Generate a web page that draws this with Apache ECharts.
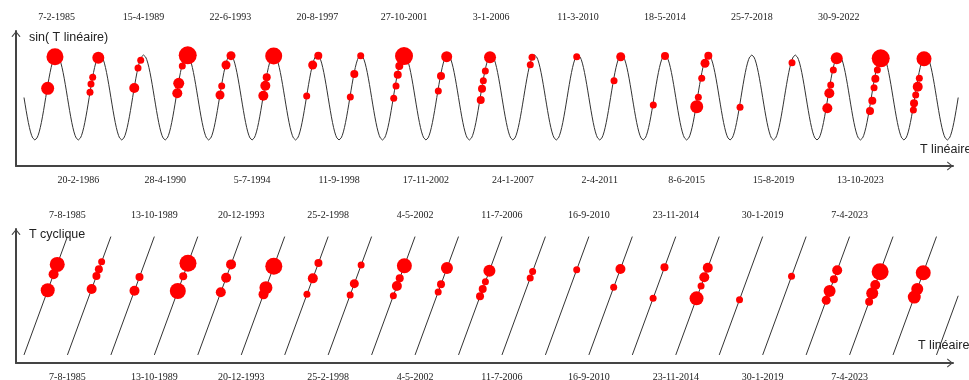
<!DOCTYPE html>
<html>
<head>
<meta charset="utf-8">
<script src="https://cdn.jsdelivr.net/npm/echarts@6/dist/echarts.min.js"></script>
<style>
  html, body { margin: 0; padding: 0; background: #fff; }
  #chart { width: 969px; height: 380px; }
</style>
</head>
<body>
<div id="chart"></div>
<script>
// T is counted in cycles (one cycle = one period of the sine)
var cycles = 21.5;

// dates written above / below each panel, and the T where they sit
var sineTopDates = ['7-2-1985', '15-4-1989', '22-6-1993', '20-8-1997', '27-10-2001', '3-1-2006', '11-3-2010', '18-5-2014', '25-7-2018', '30-9-2022'];
var sineTopAt = [0.75, 2.75, 4.75, 6.75, 8.75, 10.75, 12.75, 14.75, 16.75, 18.75];
var sineBottomDates = ['20-2-1986', '28-4-1990', '5-7-1994', '11-9-1998', '17-11-2002', '24-1-2007', '2-4-2011', '8-6-2015', '15-8-2019', '13-10-2023'];
var sineBottomAt = [1.25, 3.25, 5.25, 7.25, 9.25, 11.25, 13.25, 15.25, 17.25, 19.25];
var cyclicDates = ['7-8-1985', '13-10-1989', '20-12-1993', '25-2-1998', '4-5-2002', '11-7-2006', '16-9-2010', '23-11-2014', '30-1-2019', '7-4-2023'];
var cyclicAt = [1, 3, 5, 7, 9, 11, 13, 15, 17, 19];

// dots on the sine: [T, sin(T), dot size]
var sinePoints = [
  [0.713, 0.96, 17], [0.545, 0.216, 13],
  [1.710, 0.936, 12], [1.581, 0.475, 7], [1.542, 0.318, 7], [1.519, 0.122, 7],
  [2.686, 0.875, 7], [2.624, 0.694, 7], [2.538, 0.224, 10],
  [3.768, 0.993, 18], [3.643, 0.741, 7], [3.561, 0.334, 11], [3.528, 0.099, 10],
  [4.764, 0.984, 9], [4.649, 0.765, 9], [4.550, 0.271, 7], [4.511, 0.059, 9],
  [5.747, 0.976, 17], [5.586, 0.475, 8], [5.554, 0.278, 10], [5.508, 0.042, 10],
  [6.773, 0.984, 8], [6.644, 0.765, 9], [6.506, 0.035, 7],
  [7.749, 0.984, 7], [7.602, 0.553, 8], [7.510, 0.012, 7],
  [8.746, 0.976, 18], [8.637, 0.741, 8], [8.601, 0.536, 8], [8.562, 0.271, 7], [8.509, -0.019, 7],
  [9.728, 0.96, 11], [9.597, 0.506, 8], [9.535, 0.153, 7],
  [10.725, 0.946, 12], [10.617, 0.624, 7], [10.571, 0.395, 7], [10.541, 0.207, 8], [10.511, -0.059, 8],
  [11.692, 0.946, 7], [11.652, 0.772, 7],
  [12.720, 0.96, 7],
  [13.733, 0.96, 9], [13.579, 0.395, 7],
  [14.752, 0.976, 8], [14.483, -0.176, 7],
  [15.749, 0.984, 8], [15.673, 0.805, 9], [15.597, 0.452, 7], [15.519, 0.005, 7], [15.482, -0.216, 13],
  [16.479, -0.231, 7],
  [17.675, 0.819, 7],
  [18.704, 0.922, 12], [18.626, 0.647, 7], [18.566, 0.294, 7], [18.534, 0.099, 10], [18.488, -0.254, 10],
  [19.717, 0.922, 18], [19.639, 0.647, 7], [19.593, 0.442, 8], [19.563, 0.231, 7], [19.523, -0.075, 8], [19.470, -0.318, 8],
  [20.713, 0.913, 15], [20.605, 0.452, 7], [20.568, 0.254, 10], [20.522, 0.059, 7], [20.483, -0.136, 8], [20.468, -0.294, 7]
];

// dots on the cyclic time: [T, T cyclique, dot size]
var cyclicPoints = [
  [0.765, 0.765, 15], [0.681, 0.681, 10], [0.546, 0.546, 14],
  [1.787, 0.787, 7], [1.723, 0.723, 8], [1.667, 0.667, 8], [1.557, 0.557, 10],
  [2.658, 0.658, 8], [2.543, 0.543, 10],
  [3.774, 0.774, 17], [3.664, 0.664, 8], [3.540, 0.540, 16],
  [4.765, 0.765, 10], [4.652, 0.652, 10], [4.529, 0.529, 10],
  [5.749, 0.749, 17], [5.568, 0.568, 13], [5.512, 0.512, 10],
  [6.776, 0.776, 8], [6.647, 0.647, 10], [6.512, 0.512, 7],
  [7.759, 0.759, 7], [7.602, 0.602, 9], [7.506, 0.506, 7],
  [8.754, 0.754, 15], [8.647, 0.647, 8], [8.582, 0.582, 10], [8.500, 0.500, 7],
  [9.734, 0.734, 12], [9.597, 0.597, 8], [9.532, 0.532, 7],
  [10.711, 0.711, 12], [10.619, 0.619, 7], [10.557, 0.557, 8], [10.495, 0.495, 8],
  [11.706, 0.706, 7], [11.650, 0.650, 7],
  [12.720, 0.720, 7],
  [13.726, 0.726, 10], [13.571, 0.571, 7],
  [14.740, 0.740, 8], [14.478, 0.478, 7],
  [15.737, 0.737, 10], [15.656, 0.656, 10], [15.582, 0.582, 7], [15.478, 0.478, 14],
  [16.467, 0.467, 7],
  [17.664, 0.664, 7],
  [18.715, 0.715, 10], [18.639, 0.639, 8], [18.540, 0.540, 12], [18.462, 0.462, 9],
  [19.703, 0.703, 17], [19.591, 0.591, 10], [19.521, 0.521, 12], [19.450, 0.450, 8],
  [20.695, 0.695, 15], [20.557, 0.557, 12], [20.489, 0.489, 13]
];

// the guide curves: sin(T) and the saw of T modulo one cycle
var sineLine = [];
for (var i = 0; i <= cycles * 40; i++) {
  sineLine.push([i / 40, -Math.sin(2 * Math.PI * i / 40)]);
}
var sawLine = [];
for (var k = 0; k < cycles; k++) {
  var end = Math.min(k + 1, cycles);
  sawLine.push([k, 0]);
  sawLine.push([end, end - k]);
  sawLine.push([end, '-']);
}

var axisColor = '#444';
var arrow = 'path://M0,6 L5,0 L10,6 L8.8,6.6 L5,1.7 L1.2,6.6 Z';
var serif = '"Liberation Serif", "Times New Roman", serif';
var sans = '"Liberation Sans", Arial, sans-serif';

// the axes end a little before the curves do, so the curves sit on
// a second, slightly wider grid with the same scale
var axisWidth = 937;
var dataWidth = 943;
var xMin = -0.184;
var xMax = 21.38;
var xMaxData = xMin + (xMax - xMin) * dataWidth / axisWidth;

function hiddenAxis (grid, min, max) {
  return {
    type: 'value', gridIndex: grid, min: min, max: max, show: false,
    axisLine: { onZero: false }, splitLine: { show: false }
  };
}

function dateAxis (grid, pos, at, dates, margin, withLine) {
  return {
    type: 'value',
    gridIndex: grid,
    position: pos,
    min: xMin,
    max: xMax,
    axisLine: {
      show: withLine,
      onZero: false,
      symbol: ['none', arrow],
      symbolSize: [10, 6],
      symbolOffset: [0, -3],
      lineStyle: { color: axisColor, width: 2 }
    },
    axisTick: { show: false },
    splitLine: { show: false },
    axisLabel: {
      customValues: at,
      margin: margin,
      color: '#222',
      fontFamily: serif,
      fontSize: 10,
      formatter: function (v) {
        var n = at.indexOf(v);
        return n < 0 ? '' : dates[n];
      }
    }
  };
}

function arrowYAxis (grid, min, max, name, gap) {
  return {
    type: 'value',
    gridIndex: grid,
    min: min,
    max: max,
    axisLine: {
      show: true,
      onZero: false,
      symbol: ['none', arrow],
      symbolSize: [10, 6],
      symbolOffset: [0, -3],
      lineStyle: { color: axisColor, width: 2 }
    },
    axisTick: { show: false },
    axisLabel: { show: false },
    splitLine: { show: false },
    name: name,
    nameLocation: 'end',
    nameGap: gap,
    nameMoveOverlap: false,
    nameTextStyle: {
      color: '#222',
      fontFamily: sans,
      fontSize: 12.5,
      align: 'left',
      verticalAlign: 'middle',
      padding: [0, 0, 0, 13]
    }
  };
}

var sineMin = -1.612, sineMax = 1.565;
var cycMin = -0.068, cycMax = 1.064;

var chart = echarts.init(document.getElementById('chart'), null, { renderer: 'canvas' });
chart.setOption({
  animation: false,
  backgroundColor: '#fff',
  grid: [
    { left: 16, top: 31, width: dataWidth, height: 135, outerBoundsMode: 'none' },
    { left: 16, top: 31, width: axisWidth, height: 135, outerBoundsMode: 'none' },
    { left: 16, top: 229, width: dataWidth, height: 134, outerBoundsMode: 'none' },
    { left: 16, top: 229, width: axisWidth, height: 134, outerBoundsMode: 'none' }
  ],
  xAxis: [
    hiddenAxis(0, xMin, xMaxData),
    dateAxis(1, 'bottom', sineBottomAt, sineBottomDates, 9, true),
    dateAxis(1, 'top', sineTopAt, sineTopDates, 9, false),
    hiddenAxis(2, xMin, xMaxData),
    dateAxis(3, 'bottom', cyclicAt, cyclicDates, 9, true),
    dateAxis(3, 'top', cyclicAt, cyclicDates, 9, false)
  ],
  yAxis: [
    hiddenAxis(0, sineMin, sineMax),
    arrowYAxis(1, sineMin, sineMax, 'sin( T linéaire)', -7),
    hiddenAxis(2, cycMin, cycMax),
    arrowYAxis(3, cycMin, cycMax, 'T cyclique', -6)
  ],
  graphic: [
    { type: 'text', left: 920, top: 143, style: { text: 'T linéaire', fill: '#222', font: '12.5px ' + sans } },
    { type: 'text', left: 918, top: 339, style: { text: 'T linéaire', fill: '#222', font: '12.5px ' + sans } }
  ],
  series: [
    {
      type: 'line',
      xAxisIndex: 0,
      yAxisIndex: 0,
      data: sineLine,
      showSymbol: false,
      silent: true,
      lineStyle: { color: '#333', width: 1 }
    },
    {
      type: 'line',
      xAxisIndex: 3,
      yAxisIndex: 2,
      data: sawLine,
      showSymbol: false,
      connectNulls: false,
      silent: true,
      lineStyle: { color: '#333', width: 1 }
    },
    {
      type: 'scatter',
      xAxisIndex: 0,
      yAxisIndex: 0,
      data: sinePoints,
      symbolSize: function (d) { return d[2]; },
      itemStyle: { color: '#ff0000', opacity: 1 },
      silent: true,
      z: 3
    },
    {
      type: 'scatter',
      xAxisIndex: 3,
      yAxisIndex: 2,
      data: cyclicPoints,
      symbolSize: function (d) { return d[2]; },
      itemStyle: { color: '#ff0000', opacity: 1 },
      silent: true,
      z: 3
    }
  ]
});
</script>
</body>
</html>
